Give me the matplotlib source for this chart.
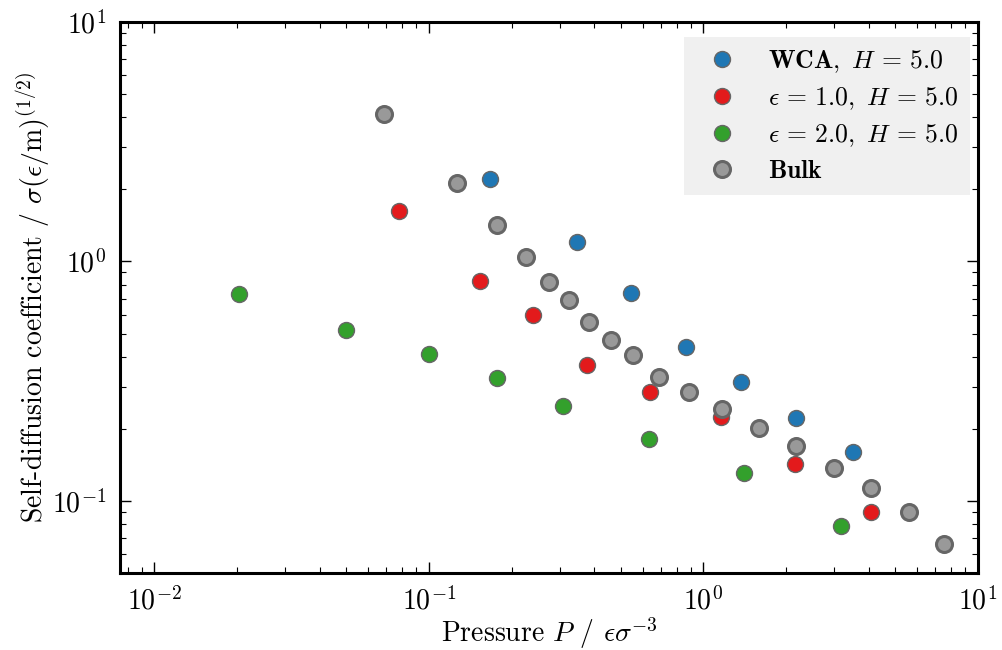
import numpy as np
import matplotlib
matplotlib.use("Agg")
import matplotlib.pyplot as plt

# data (pressure, self-diffusion coefficient)
wca_p = [0.167, 0.345, 0.545, 0.862, 1.37, 2.17, 3.51]
wca_d = [2.22, 1.20, 0.741, 0.440, 0.315, 0.222, 0.160]

eps1_p = [0.0776, 0.154, 0.240, 0.376, 0.640, 1.16, 2.15, 4.09]
eps1_d = [1.63, 0.825, 0.600, 0.371, 0.286, 0.225, 0.143, 0.090]

eps2_p = [0.0203, 0.0501, 0.100, 0.177, 0.307, 0.634, 1.41, 3.18]
eps2_d = [0.728, 0.515, 0.412, 0.327, 0.250, 0.182, 0.131, 0.0786]

bulk_p = [0.0684, 0.127, 0.177, 0.225, 0.273, 0.323, 0.382, 0.460, 0.554,
          0.690, 0.889, 1.17, 1.59, 2.17, 2.99, 4.09, 5.59, 7.50]
bulk_d = [4.12, 2.12, 1.42, 1.04, 0.817, 0.687, 0.561, 0.472, 0.408,
          0.330, 0.286, 0.243, 0.202, 0.170, 0.137, 0.113, 0.090, 0.066]

labels = [r'$\mathbf{WCA},\ H\,=\,5.0$',
          r'$\epsilon\,=\,1.0,\ H\,=\,5.0$',
          r'$\epsilon\,=\,2.0,\ H\,=\,5.0$',
          r'$\mathbf{Bulk}$']

plt.rcParams['mathtext.fontset'] = 'cm'
plt.rcParams['font.family'] = 'serif'
plt.rcParams['font.serif'] = ['cmr10', 'DejaVu Serif']
plt.rcParams['axes.formatter.use_mathtext'] = True
plt.rcParams['axes.unicode_minus'] = False

fig = plt.figure(figsize=(10.03, 6.5), dpi=100)
ax = fig.add_axes([120 / 1003, 1 - 573 / 650, 858 / 1003, 551 / 650])

# colored series
ax.plot(wca_p, wca_d, 'o', ms=11.5, mfc='#1f77b4', mec='#666666', mew=1.0,
        label=labels[0])
ax.plot(eps1_p, eps1_d, 'o', ms=11.5, mfc='#e31a1c', mec='#666666', mew=1.0,
        label=labels[1])
ax.plot(eps2_p, eps2_d, 'o', ms=11.5, mfc='#33a02c', mec='#666666', mew=1.0,
        label=labels[2])
# bulk on top
ax.plot(bulk_p, bulk_d, 'o', ms=11.5, mfc='#999999', mec='#666666', mew=2.2,
        label=labels[3])

ax.set_xscale('log')
ax.set_yscale('log')
ax.set_xlim(0.0075, 10)
ax.set_ylim(0.05, 10)

ax.set_xlabel(r'Pressure $P$ / $\epsilon\sigma^{-3}$', fontsize=20, labelpad=0)
ax.set_ylabel(r'Self-diffusion coefficient / $\sigma(\epsilon/\mathrm{m})^{(1/2)}$',
              fontsize=20, labelpad=0)

for s in ax.spines.values():
    s.set_linewidth(2.2)
ax.tick_params(which='both', direction='in', top=True, right=True, labelsize=20)
ax.tick_params(which='major', length=8, width=1.0, pad=10)
ax.tick_params(which='minor', length=4, width=0.8)

leg = ax.legend(loc='upper right', bbox_to_anchor=(970 / 1003, 1 - 37 / 650),
                bbox_transform=fig.transFigure, borderaxespad=0,
                numpoints=1, fontsize=18.5, frameon=True, fancybox=False,
                borderpad=0.45, handletextpad=0.8, labelspacing=0.4,
                handlelength=2.0)
leg.get_frame().set_facecolor('#f0f0f0')
leg.get_frame().set_edgecolor('none')
leg.get_frame().set_alpha(1.0)

fig.savefig('out.png', dpi=100)
